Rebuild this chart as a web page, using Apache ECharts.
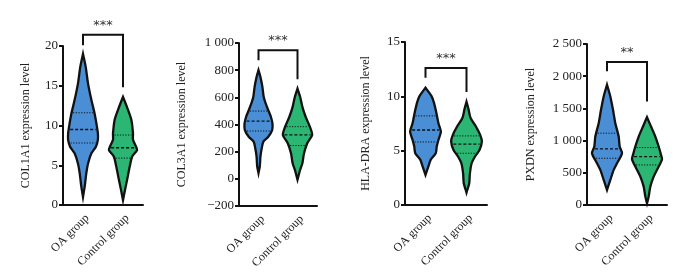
<!DOCTYPE html>
<html>
<head>
<meta charset="utf-8">
<script src="https://cdn.jsdelivr.net/npm/echarts@6/dist/echarts.min.js"></script>
<style>
  html, body { margin: 0; padding: 0; background: #fff; }
  #chart { width: 688px; height: 277px; }
</style>
</head>
<body>
<div id="chart"></div>
<script>
const groups = ['OA group', 'Control group'];
const genes = ['COL1A1', 'COL3A1', 'HLA-DRA', 'PXDN'];

// y-axis ranges per panel: [min, max, interval]
const yRanges = [[0, 20, 5], [-200, 1000, 200], [0, 15, 5], [0, 2500, 500]];

// violin outlines: [value, half width as share of category band]
const col1a1OA = [[19.0, 0], [17.4, 0.067], [15.3, 0.125], [13.2, 0.21], [11.5, 0.29], [9.8, 0.35], [9.0, 0.372], [8.2, 0.372], [7.3, 0.32], [6.5, 0.21], [5.2, 0.125], [4.0, 0.083], [2.3, 0.042], [1.0, 0]];
const col1a1Ctrl = [[13.6, 0], [12.3, 0.1], [10.7, 0.21], [9.0, 0.25], [8.2, 0.25], [7.3, 0.33], [6.9, 0.352], [6.1, 0.23], [4.8, 0.167], [3.1, 0.1], [1.9, 0.05], [0.6, 0]];
const col3a1OA = [[800, 0], [750, 0.05], [677, 0.1], [604, 0.133], [555, 0.183], [506, 0.25], [457, 0.317], [408, 0.358], [359, 0.35], [310, 0.25], [274, 0.125], [225, 0.083], [164, 0.05], [90, 0.033], [42, 0]];
const col3a1Ctrl = [[665, 0], [604, 0.067], [530, 0.125], [457, 0.208], [384, 0.317], [323, 0.375], [262, 0.25], [188, 0.167], [115, 0.125], [66, 0.067], [-7, 0]];
const hladraOA = [[10.8, 0], [10.0, 0.15], [9.4, 0.208], [8.45, 0.267], [7.5, 0.317], [6.76, 0.375], [6.0, 0.317], [5.4, 0.275], [4.76, 0.25], [4.15, 0.125], [3.5, 0.067], [2.77, 0]];
const hladraCtrl = [[9.5, 0], [8.8, 0.05], [8.0, 0.1], [7.2, 0.233], [6.45, 0.333], [5.84, 0.375], [5.07, 0.317], [4.46, 0.208], [3.84, 0.125], [2.9, 0.083], [2.0, 0.067], [1.14, 0]];
const pxdnOA = [[1867, 0], [1686, 0.083], [1478, 0.15], [1271, 0.208], [1063, 0.292], [908, 0.317], [804, 0.375], [648, 0.25], [545, 0.167], [389, 0.083], [233, 0]];
const pxdnCtrl = [[1364, 0], [1219, 0.1], [1063, 0.208], [908, 0.292], [778, 0.35], [710, 0.375], [596, 0.292], [441, 0.167], [285, 0.083], [130, 0.042], [26, 0]];

// quartiles [Q1, median, Q3]
const col1a1Quart = [[7.8, 9.5, 11.6], [5.9, 7.2, 8.8]];
const col3a1Quart = [[352, 425, 499], [245, 323, 384]];
const hladraQuart = [[5.8, 6.9, 8.2], [4.76, 5.6, 6.36]];
const pxdnQuart = [[726, 871, 1115], [622, 752, 892]];

// significance bracket: [top, left leg end, right leg end]
const brackets = [[21.4, 20.1, 14.8], [946, 873, 733], [12.6, 11.7, 10.4], [2220, 2075, 1608]];
const stars = ['***', '***', '***', '**'];

const profiles = [[col1a1OA, col1a1Ctrl], [col3a1OA, col3a1Ctrl], [hladraOA, hladraCtrl], [pxdnOA, pxdnCtrl]];
const quartiles = [col1a1Quart, col3a1Quart, hladraQuart, pxdnQuart];

const colors = ['#4a8fd6', '#2cb673'];
const font = 'Liberation Serif';

const grids = [
  { left: 63, top: 46, width: 80, height: 159 },
  { left: 239, top: 43, width: 78, height: 163 },
  { left: 405, top: 42, width: 82, height: 163 },
  { left: 587, top: 44, width: 80, height: 161 }
];
const nameGaps = [31, 51, 33, 50];

function fmt(v) {
  let s = String(Math.abs(v));
  if (s.length > 3) s = s.slice(0, s.length - 3) + ' ' + s.slice(-3);
  return (v < 0 ? '\u2212' : '') + s;
}

function widthAt(profile, v) {
  for (let i = 0; i < profile.length - 1; i++) {
    const a = profile[i], b = profile[i + 1];
    if (v <= a[0] && v >= b[0]) {
      const t = (a[0] - v) / (a[0] - b[0]);
      return a[1] + (b[1] - a[1]) * t;
    }
  }
  return 0;
}

const xAxes = [], yAxes = [], series = [];

grids.forEach((g, p) => {
  xAxes.push({
    type: 'category', gridIndex: p, data: groups,
    axisLine: { onZero: false, lineStyle: { color: '#111', width: 2 } },
    axisTick: { alignWithLabel: true, length: 4, lineStyle: { color: '#111', width: 2 } },
    axisLabel: { rotate: 45, interval: 0, margin: 7, verticalAlign: 'top', fontFamily: font, fontSize: 12, color: '#222' }
  });
  yAxes.push({
    type: 'value', gridIndex: p,
    min: yRanges[p][0], max: yRanges[p][1], interval: yRanges[p][2],
    name: genes[p] + ' expression level', nameLocation: 'middle', nameGap: nameGaps[p],
    nameTextStyle: { fontFamily: font, fontSize: 12, color: '#222' },
    axisLine: { show: true, onZero: false, lineStyle: { color: '#111', width: 2 } },
    axisTick: { show: true, length: 4, lineStyle: { color: '#111', width: 2 } },
    splitLine: { show: false },
    axisLabel: { fontFamily: font, fontSize: 13, color: '#222', margin: 5, formatter: fmt }
  });

  // violins
  series.push({
    type: 'custom', xAxisIndex: p, yAxisIndex: p,
    data: [[0], [1]],
    renderItem: function (params, api) {
      const c = api.value(0);
      const prof = profiles[p][c];
      const band = api.size([1, 0])[0];
      const cx = api.coord([c, 0])[0];
      const right = [], left = [];
      prof.forEach(pt => {
        const y = api.coord([c, pt[0]])[1];
        right.push([cx + pt[1] * band, y]);
        left.unshift([cx - pt[1] * band, y]);
      });
      const children = [{
        type: 'polygon',
        shape: { points: right.concat(left), smooth: 0.25 },
        style: { fill: colors[c], stroke: '#111', lineWidth: 2.3 }
      }];
      quartiles[p][c].forEach((q, k) => {
        const hw = widthAt(prof, q) * band - 1.5;
        const y = api.coord([c, q])[1];
        children.push({
          type: 'line',
          shape: { x1: cx - hw, y1: y, x2: cx + hw, y2: y },
          style: { stroke: '#111', lineWidth: k === 1 ? 1.3 : 1, lineDash: k === 1 ? [3, 2] : [1.2, 1.5] }
        });
      });
      return { type: 'group', children: children };
    }
  });

  // significance bracket
  series.push({
    type: 'custom', xAxisIndex: p, yAxisIndex: p, clip: false,
    data: [brackets[p]],
    renderItem: function (params, api) {
      const b = brackets[p];
      const l0 = api.coord([0, b[1]]);
      const lt = api.coord([0, b[0]]);
      const rt = api.coord([1, b[0]]);
      const r0 = api.coord([1, b[2]]);
      return {
        type: 'group',
        children: [{
          type: 'polyline',
          shape: { points: [l0, lt, rt, r0] },
          style: { fill: 'none', stroke: '#111', lineWidth: 2 }
        }, {
          type: 'text',
          style: {
            x: (lt[0] + rt[0]) / 2, y: lt[1] - 3,
            text: stars[p], fill: '#333', fontSize: 13, fontFamily: 'DejaVu Sans',
            align: 'center', verticalAlign: 'bottom'
          }
        }]
      };
    }
  });
});

const chart = echarts.init(document.getElementById('chart'));
chart.setOption({
  backgroundColor: '#fff',
  animation: false,
  grid: grids,
  xAxis: xAxes,
  yAxis: yAxes,
  series: series
});
</script>
</body>
</html>
